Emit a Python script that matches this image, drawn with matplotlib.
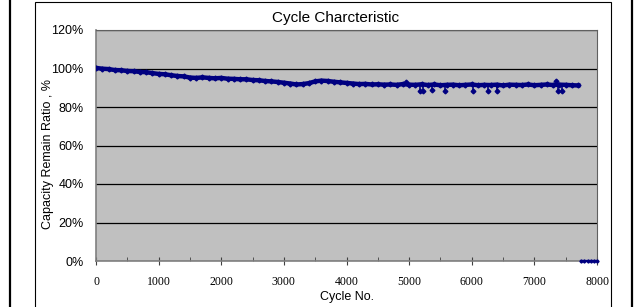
import matplotlib.pyplot as plt
from matplotlib.lines import Line2D
from matplotlib.patches import Rectangle
from matplotlib.ticker import MultipleLocator, FuncFormatter

# main capacity trend, read every 100 cycles
cycles = [0, 100, 200, 300, 400, 500, 600, 700, 800, 900,
          1000, 1100, 1200, 1300, 1400, 1500, 1600, 1700, 1800, 1900,
          2000, 2100, 2200, 2300, 2400, 2500, 2600, 2700, 2800, 2900,
          3000, 3100, 3200, 3300, 3400, 3500, 3600, 3700, 3800, 3900,
          4000, 4100, 4200, 4300, 4400, 4500, 4600, 4700, 4800, 4900,
          5000, 5100, 5200, 5300, 5400, 5500, 5600, 5700, 5800, 5900,
          6000, 6100, 6200, 6300, 6400, 6500, 6600, 6700, 6800, 6900,
          7000, 7100, 7200, 7300, 7400, 7500, 7600, 7700]
capacity = [100.3, 99.9, 99.7, 99.2, 99.1, 98.7, 98.6, 98.2, 98.1, 97.6,
            97.2, 97.0, 96.5, 96.1, 95.9, 95.3, 95.1, 95.4, 95.1, 94.9,
            95.1, 94.7, 94.6, 94.4, 94.4, 94.0, 93.9, 93.5, 93.3, 93.0,
            92.6, 92.2, 91.7, 91.9, 92.4, 93.3, 93.7, 93.5, 93.1, 92.8,
            92.5, 92.2, 91.9, 92.0, 91.7, 91.8, 91.6, 91.7, 91.5, 91.9,
            91.6, 91.5, 91.8, 91.4, 91.7, 91.3, 91.5, 91.6, 91.3, 91.5,
            91.7, 91.3, 91.5, 91.4, 91.6, 91.2, 91.6, 91.5, 91.4, 91.7,
            91.3, 91.5, 91.7, 91.4, 91.6, 91.5, 91.3, 91.2]

# single-cycle dips and spikes (base = level of the trend around them)
spike_cycles = [4950, 5170, 5220, 5365, 5575, 6020, 6260, 6400, 7340, 7380, 7440]
spike_base = [91.7, 91.6, 91.6, 91.5, 91.4, 91.6, 91.4, 91.5, 91.5, 91.5, 91.6]
spike_capacity = [93.2, 88.4, 88.3, 88.6, 88.5, 88.1, 88.3, 88.2, 93.6, 88.3, 88.2]

# points after the end of the test, logged at zero
end_cycles = [7750, 7800, 7850, 7900, 7950, 8000]
end_capacity = [0, 0, 0, 0, 0, 0]

navy = '#000080'

fig = plt.figure(figsize=(6.36, 3.07), dpi=100)
W, H = 636, 307

# page edge lines and chart frame
fig.add_artist(Line2D([10 / W, 10 / W], [0, 1], color='black', lw=1.6))
fig.add_artist(Line2D([631.5 / W, 631.5 / W], [0, 1], color='black', lw=1.6))
fig.add_artist(Rectangle((35 / W, -0.05), (611 - 35) / W, 305 / H + 0.05,
                         fill=False, ec='black', lw=0.8))

ax = fig.add_axes([96 / W, (H - 261) / H, (597 - 96) / W, (261 - 30) / H])
ax.set_facecolor('#c0c0c0')

ax.plot(cycles, capacity, color=navy, lw=3.2, marker='D', ms=2.5,
        solid_joinstyle='round', zorder=3)
ax.vlines(spike_cycles, spike_base, spike_capacity, color=navy, lw=1.2, zorder=3)
ax.plot(spike_cycles, spike_capacity, ls='none', color=navy, marker='D', ms=2.4, zorder=3)
ax.plot(end_cycles, end_capacity, color=navy, lw=1.6, marker='D', ms=1.6,
        clip_on=False, zorder=4)

ax.set_xlim(0, 8000)
ax.set_ylim(0, 120)
ax.yaxis.set_major_locator(MultipleLocator(20))
ax.yaxis.set_major_formatter(FuncFormatter(lambda v, p: f'{v:.0f}%'))
ax.xaxis.set_major_locator(MultipleLocator(1000))
ax.xaxis.set_minor_locator(MultipleLocator(500))
ax.grid(axis='y', color='black', lw=0.9)
ax.set_axisbelow(True)

for s in ['left', 'bottom']:
    ax.spines[s].set_color('#808080')
    ax.spines[s].set_linewidth(1.2)
for s in ['top', 'right']:
    ax.spines[s].set_color('#606060')
    ax.spines[s].set_linewidth(0.8)

ax.tick_params(axis='y', length=0, pad=9, labelsize=9)
for lab in ax.get_yticklabels():
    lab.set_fontfamily('Liberation Sans')
ax.tick_params(axis='x', which='major', direction='inout', length=6,
               color='#404040', pad=8, labelsize=8.5)
ax.tick_params(axis='x', which='minor', direction='in', length=3, color='#404040')
for lab in ax.get_xticklabels():
    lab.set_fontfamily('Liberation Serif')

fig.text(336 / W, 1 - 18 / H, 'Cycle Charcteristic', ha='center', va='center',
         fontsize=11, family='Liberation Sans')
fig.text(347 / W, 1 - 297 / H, 'Cycle No.', ha='center', va='center',
         fontsize=9, family='Liberation Sans')
fig.text(48 / W, 1 - 154 / H, 'Capacity Remain Ratio , %', ha='center', va='center',
         rotation=90, fontsize=9, family='Liberation Sans')

fig.savefig('out.png', dpi=100)
